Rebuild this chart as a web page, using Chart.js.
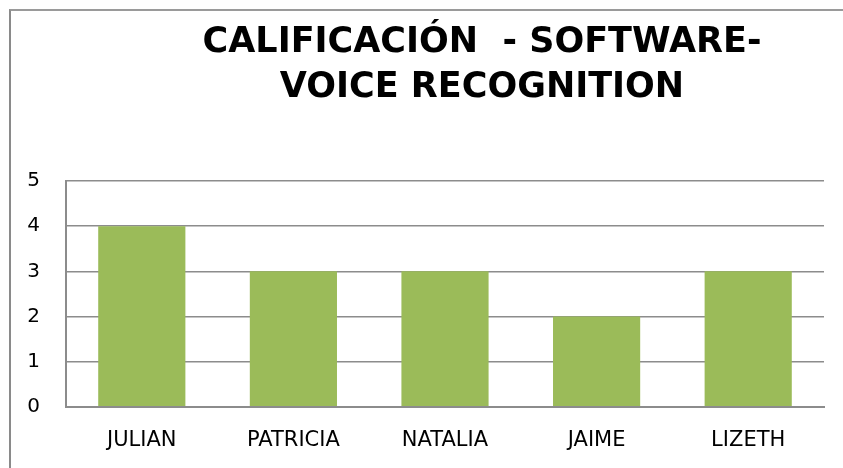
<!DOCTYPE html>
<html>
<head>
<meta charset="utf-8">
<script src="https://cdn.jsdelivr.net/npm/chart.js@4/dist/chart.umd.min.js"></script>
<style>
  html, body { margin: 0; padding: 0; background: #fff; overflow: hidden; }
  #viewport { position: relative; width: 843px; height: 468px; overflow: hidden; background: #fff; }
  #frame { position: absolute; left: 9px; top: 9px; width: 1200px; height: 700px;
           border-left: 2px solid #8a8a8a; border-top: 2px solid #9a9a9a; box-sizing: border-box; }
  #wrap { position: absolute; left: 0; top: 0; width: 942px; height: 463px; }
</style>
</head>
<body>
<div id="viewport"><div id="frame"><div id="wrap"><canvas id="c"></canvas></div></div></div>
<script>
const titleLines = ['CALIFICACIÓN  - SOFTWARE-', 'VOICE RECOGNITION'];
const categories = ['JULIAN', 'PATRICIA', 'NATALIA', 'JAIME', 'LIZETH'];
const scores = [4, 3, 3, 2, 3];
const yTicks = [0, 1, 2, 3, 4, 5];

const FONT = "'DejaVu Sans', sans-serif";

new Chart(document.getElementById('c'), {
  type: 'bar',
  data: {
    labels: categories,
    datasets: [{
      label: 'Calificación',
      data: scores,
      backgroundColor: '#9bbb59',
      borderWidth: 0,
      categoryPercentage: 0.575,
      barPercentage: 1.0
    }]
  },
  options: {
    responsive: true,
    maintainAspectRatio: false,
    animation: false,
    layout: { padding: 0 },
    plugins: {
      legend: { display: false },
      tooltip: { enabled: false },
      title: {
        display: true,
        text: titleLines,
        color: '#000',
        font: { family: FONT, size: 35, weight: 'bold', lineHeight: 1.3 },
        padding: { top: 9, bottom: 70 }
      }
    },
    scales: {
      x: {
        grid: { display: false, drawTicks: false },
        border: { display: true, color: '#8c8c8c', width: 2 },
        ticks: { color: '#000', font: { family: FONT, size: 21 }, padding: 21 }
      },
      y: {
        min: 0, max: 5,
        afterFit: (s) => { s.width = 55; },
        afterBuildTicks: (s) => { s.ticks = yTicks.map(v => ({ value: v })); },
        grid: { color: '#8c8c8c', lineWidth: 1.5, drawTicks: false },
        border: { display: true, color: '#8c8c8c', width: 2 },
        ticks: { color: '#000', font: { family: FONT, size: 20 }, padding: 26 }
      },
      yRight: {
        position: 'right',
        display: true,
        afterFit: (s) => { s.width = 129; },
        grid: { display: false, drawTicks: false },
        border: { display: false },
        ticks: { display: false }
      }
    }
  }
});
</script>
</body>
</html>
